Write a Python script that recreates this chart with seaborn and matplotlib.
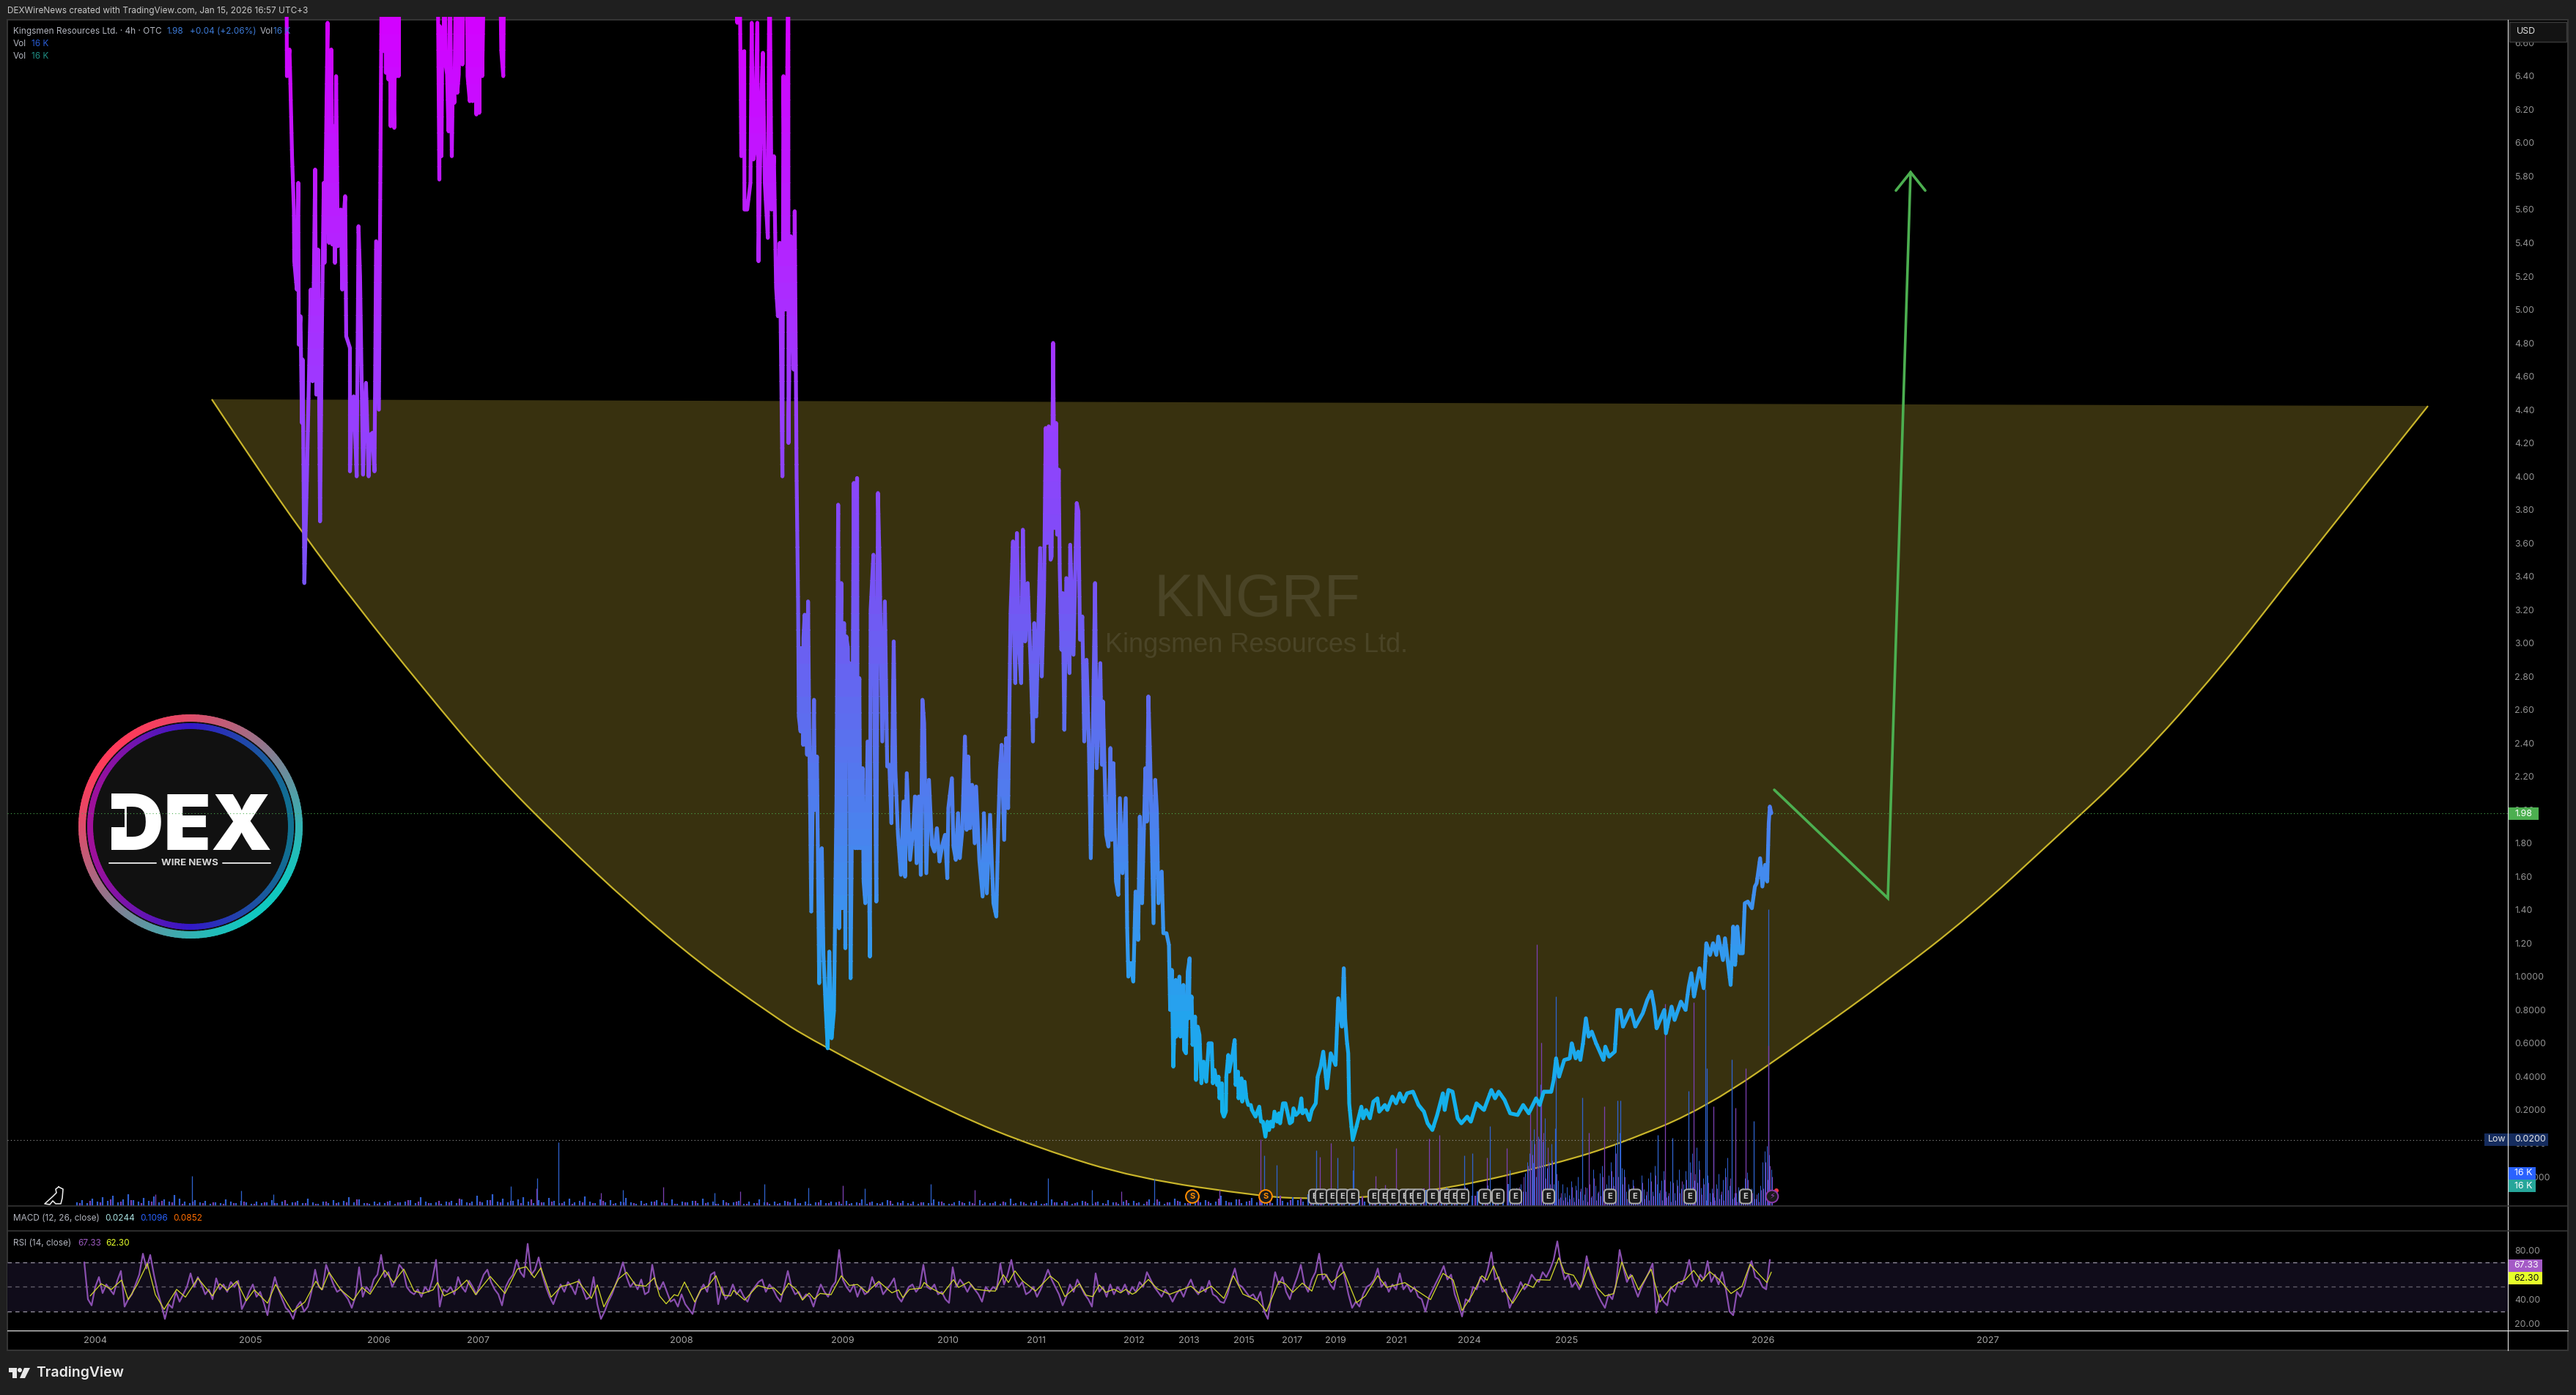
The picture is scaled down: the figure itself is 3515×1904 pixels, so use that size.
#!/usr/bin/env python3
# KNGRF cup chart, TradingView look
import numpy as np
import pandas as pd
import matplotlib
matplotlib.use('Agg')
import matplotlib.pyplot as plt
import seaborn as sns
from matplotlib.collections import LineCollection
from matplotlib.colors import LinearSegmentedColormap
from matplotlib.patches import Circle, PathPatch, Polygon, Rectangle
from matplotlib.path import Path

# x is the bar position along the compressed time axis
# price path, (bar, price), 7.2 means off the top of the pane
price_2005 = [(390.8, 7.2), (391.5, 6.40), (395, 6.56), (396, 6.40), (398.5, 5.92), (401, 5.60), (401.5, 5.29),
              (405, 5.12), (407, 5.76), (407.7, 4.79), (410, 4.96), (412, 4.32), (413, 4.7), (415.3, 3.36),
              (418.8, 4.0), (424, 5.12), (426.5, 4.57), (430, 5.84), (431.6, 4.49), (434, 5.36), (436.7, 3.73),
              (439, 4.8), (441.8, 5.76), (442.8, 5.28), (447, 6.72), (446, 5.76), (449, 5.4), (452, 6.56),
              (453.5, 5.39), (455, 6.1), (457, 5.28), (458.6, 6.40), (461, 5.38), (465, 5.60), (467, 5.12),
              (468, 5.5), (471, 5.68), (472.4, 4.84), (477.5, 4.77), (477.5, 4.03), (480, 4.4), (482.6, 4.48),
              (486.7, 4.0), (489.2, 5.50), (491.3, 5.20), (495.4, 4.01), (497, 4.3), (499.4, 4.56), (503, 4.0),
              (505, 4.25), (508, 4.26), (511, 4.03), (513.2, 5.41), (517, 4.40), (521, 7.2)]
price_2006 = [(524, 6.55), (526, 7.2), (526.5, 6.42), (528, 7.2), (530, 6.38), (531, 7.2), (533, 6.10), (534, 6.38),
              (536, 7.2), (536.5, 6.38), (538, 6.09), (538.5, 6.40), (540, 7.2), (541.5, 6.40), (543, 7.2),
              (544, 6.40), (545, 7.2), (597, 7.2), (599.5, 5.78), (600, 6.7), (602.4, 5.92), (603.5, 6.6),
              (605, 6.47), (606.5, 7.2), (608, 6.47), (610, 6.41), (612, 6.07), (614, 7.0), (616.5, 5.92),
              (618, 6.4), (620, 6.24), (622, 7.0), (624, 6.3), (626, 6.41), (628, 7.2), (631, 6.47), (633, 7.2),
              (637, 7.2), (638, 6.40), (641, 6.25), (643, 7.0), (645, 6.25), (647, 7.0), (650, 6.17), (652, 7.2),
              (654, 6.18), (655, 7.2), (658, 6.40), (661, 7.2), (682, 7.2), (684, 6.55), (686.7, 6.40), (688, 7.2)]
price_2008 = [(1005, 7.2), (1006, 6.72), (1009, 7.2), (1011.5, 5.92), (1015.5, 6.55), (1015.8, 5.60), (1019.6, 5.60),
              (1024, 5.76), (1025.7, 6.72), (1028, 5.9), (1030, 5.96), (1033.4, 6.72), (1035, 5.29), (1038.5, 6.24),
              (1041, 6.54), (1043.6, 5.76), (1047.7, 5.43), (1050, 7.2), (1052.8, 5.60), (1056, 5.92), (1059, 5.13),
              (1061.5, 4.96), (1064, 5.4), (1067.6, 4.0), (1069, 6.40), (1071.6, 5.0), (1075.7, 7.2), (1075.9, 4.20),
              (1079, 5.44), (1083, 4.64), (1084.4, 5.59), (1087, 3.99), (1089, 3.24), (1090, 2.56), (1092.4, 2.47),
              (1093, 2.97), (1096, 2.39), (1096.3, 3.03), (1098, 3.17), (1101.3, 2.33), (1102.6, 3.25), (1104.4, 2.41),
              (1107, 1.39), (1110.7, 2.66), (1112, 2.0), (1114.7, 2.32), (1117.8, 0.96), (1119, 1.60), (1121.4, 1.77),
              (1123.6, 1.13), (1126.7, 0.81), (1129.4, 0.57), (1131.6, 1.15), (1134.7, 0.63), (1137.9, 0.79),
              (1139, 1.17), (1141.4, 2.07), (1143.7, 3.83), (1145, 1.29), (1146.5, 2.79), (1148, 3.36), (1149, 1.41),
              (1151.7, 3.12), (1153.5, 1.17), (1154.8, 3.04), (1157, 2.97), (1158, 2.4), (1159, 2.88), (1160.6, 0.99),
              (1162.5, 1.9), (1165, 3.96), (1166.9, 1.77), (1169.5, 3.99), (1170.4, 1.77), (1172.6, 2.79), (1174, 1.77),
              (1177, 2.25), (1178.4, 1.57), (1180.7, 1.44), (1183.8, 2.41), (1187, 1.12), (1188, 3.20), (1191.8, 3.53),
              (1193.6, 2.34), (1195.8, 1.45), (1198, 3.90), (1200.3, 3.46), (1203.9, 2.41), (1207.4, 3.25), (1210.6, 2.26),
              (1213.5, 2.27), (1216.4, 1.92), (1219.5, 3.01), (1221.7, 2.24), (1225.3, 1.85), (1229.3, 1.61)]
price_2009 = [(1232.9, 2.05), (1235, 1.60), (1237.3, 2.22), (1241.8, 1.70), (1246.2, 1.89), (1248.5, 2.08), (1250.7, 1.68),
              (1253.8, 2.08), (1256.5, 1.61), (1258.7, 2.66), (1261, 2.52), (1264, 1.62), (1267.6, 2.18), (1271.7, 1.79),
              (1275, 1.75), (1278.4, 1.89), (1282, 1.69), (1286.4, 1.80), (1289.5, 1.85), (1292.6, 1.59), (1294, 2.01),
              (1298.9, 2.19), (1301, 1.78), (1304.2, 1.70), (1307.3, 1.98), (1309.6, 1.71), (1313, 1.87), (1316.7, 2.44),
              (1319, 1.88), (1321.2, 2.32), (1323.4, 1.89), (1326.5, 2.15), (1330, 1.80), (1331.9, 2.14), (1336.3, 1.70),
              (1340.8, 1.48), (1342.6, 1.98), (1346.6, 1.50), (1351, 1.97), (1355.5, 1.44), (1359.5, 1.36), (1362.2, 1.91),
              (1364.4, 2.24), (1366.7, 2.39), (1370.2, 1.82), (1372.9, 2.43), (1375.6, 2.01), (1377.8, 2.79), (1379, 3.19),
              (1382.3, 3.61), (1384, 3.0), (1385.4, 2.76), (1387.6, 3.66), (1390.3, 2.99), (1393.4, 2.76), (1395.7, 3.68),
              (1398.8, 3.01), (1402.3, 3.36), (1406.8, 2.81), (1409.5, 2.41), (1411.3, 3.12), (1414, 2.56), (1416.6, 3.06),
              (1419.3, 3.57), (1421.5, 2.80), (1424.6, 3.30), (1426.9, 4.29), (1429, 3.6), (1431, 4.30), (1433.6, 3.50),
              (1435, 3.52), (1437, 4.80), (1439, 3.69), (1441, 4.32), (1442.5, 3.65), (1444.7, 4.04), (1446, 3.45),
              (1448.3, 2.96), (1450, 3.3), (1452.3, 2.48), (1455, 3.39), (1459.4, 2.82), (1460.3, 3.59), (1464.8, 2.93),
              (1469.2, 3.84), (1471.5, 3.79), (1473.7, 3.02), (1476.8, 3.16), (1479.5, 2.41), (1482.6, 2.90),
              (1485.7, 2.41), (1488.4, 1.71), (1491.5, 2.54), (1494.2, 3.36), (1496.5, 2.25), (1501.4, 2.88)]
price_2011 = [(1503.6, 2.27), (1505, 2.65), (1509.4, 1.85), (1512.5, 1.78), (1515.2, 2.37), (1517, 1.82), (1519.2, 2.28),
              (1522.8, 1.57), (1525.9, 1.49), (1528.1, 2.07), (1531.7, 1.62), (1536.1, 2.07), (1538, 1.3), (1539.7, 1.0),
              (1543, 1.08), (1546.4, 0.97), (1549.5, 1.51), (1553, 1.22), (1555.3, 1.96), (1558.4, 1.44), (1562.9, 2.25),
              (1565, 1.93), (1567, 2.68), (1569.6, 2.27), (1574, 1.32), (1576.3, 2.18), (1578.5, 2.0), (1580.7, 1.44),
              (1585.2, 1.63), (1587.4, 1.26), (1591.7, 1.26), (1595, 1.19), (1596.7, 0.80), (1599, 1.04), (1601, 0.46),
              (1604.3, 0.98), (1605, 0.64), (1609.3, 1.0), (1610.7, 0.64), (1614.7, 0.95), (1615.7, 0.56), (1618.3, 0.54),
              (1620.7, 1.03), (1623.3, 1.11), (1622.3, 0.75), (1626, 0.88), (1627.3, 0.59), (1630.7, 0.76), (1632, 0.38),
              (1634.3, 0.70), (1636.7, 0.65), (1639.3, 0.36), (1642.3, 0.49), (1646, 0.37), (1649.3, 0.60), (1653.3, 0.60),
              (1655, 0.36), (1657.3, 0.44), (1660.7, 0.35), (1662.7, 0.40), (1664, 0.27), (1667.3, 0.36), (1667.6, 0.19),
              (1670, 0.16), (1672.7, 0.19), (1673.3, 0.40), (1676, 0.53), (1677.3, 0.43), (1681.7, 0.53), (1684.7, 0.62),
              (1686, 0.35), (1689.3, 0.43), (1690, 0.27), (1694, 0.39), (1695, 0.25), (1698.3, 0.37), (1700.7, 0.27),
              (1703.3, 0.23), (1706.7, 0.23), (1708.3, 0.20), (1713.3, 0.16), (1718.3, 0.22), (1720.7, 0.13),
              (1723.3, 0.13), (1726.7, 0.04), (1729.3, 0.13), (1731.7, 0.08), (1734, 0.13), (1736.7, 0.10), (1739, 0.19),
              (1742.7, 0.13), (1745, 0.18), (1746.7, 0.12), (1750.7, 0.24), (1754, 0.24), (1757, 0.18), (1760, 0.12),
              (1763, 0.13), (1765, 0.21), (1768.3, 0.17), (1772.7, 0.19), (1775.7, 0.27), (1777.3, 0.18), (1781.7, 0.20),
              (1786.7, 0.14)]
price_2019 = [(1790, 0.20), (1795.4, 0.24), (1798, 0.40), (1802, 0.46), (1805.6, 0.55), (1810.7, 0.33), (1815.8, 0.54),
              (1822.4, 0.47), (1826, 0.87), (1831, 0.70), (1833.6, 1.05), (1835.5, 0.75), (1837.7, 0.62), (1839.7, 0.54),
              (1841, 0.24), (1845.8, 0.02), (1851.4, 0.11), (1857.6, 0.22), (1860, 0.15), (1864, 0.20), (1869.3, 0.15),
              (1874, 0.25), (1879.5, 0.27), (1882, 0.19), (1889.7, 0.23), (1893, 0.20), (1900, 0.28), (1905, 0.24),
              (1910, 0.30), (1915, 0.25), (1920, 0.30), (1928, 0.31), (1935.6, 0.23), (1943, 0.19), (1948, 0.12),
              (1954.5, 0.08), (1961, 0.17), (1968.8, 0.30), (1971.3, 0.20), (1976.4, 0.32), (1982, 0.31), (1989, 0.15),
              (1994, 0.12), (2002, 0.16), (2007, 0.13), (2014.7, 0.24), (2024.9, 0.20), (2035, 0.32), (2040, 0.27),
              (2045, 0.31), (2053, 0.26), (2060.6, 0.18), (2070.8, 0.17), (2078.4, 0.23), (2086, 0.18), (2096, 0.27),
              (2101, 0.23), (2106.5, 0.31), (2116.7, 0.31), (2120, 0.38), (2123.3, 0.51), (2127.4, 0.40), (2134.5, 0.50),
              (2142, 0.51), (2144.7, 0.60), (2150, 0.51), (2153.5, 0.55), (2156.4, 0.50), (2160, 0.60), (2164, 0.75),
              (2167.7, 0.64), (2172, 0.67), (2177.9, 0.60), (2188, 0.50), (2190.5, 0.58), (2195.7, 0.52), (2203.4, 0.55),
              (2207, 0.80), (2211, 0.80), (2214.6, 0.70), (2225.3, 0.80), (2231.4, 0.70), (2241.6, 0.78), (2247.7, 0.86),
              (2253.3, 0.91), (2257, 0.82), (2260.5, 0.69), (2271, 0.80), (2273.2, 0.66), (2280.9, 0.82), (2285, 0.74),
              (2293.6, 0.85), (2300, 0.80), (2304.3, 0.94), (2307.9, 1.02), (2311.5, 0.88), (2319, 1.05), (2324.7, 0.93),
              (2328.3, 1.20), (2333.4, 1.13), (2337.5, 1.20), (2342, 1.13), (2344.6, 1.24), (2351, 1.10), (2353.8, 1.23),
              (2361.5, 0.95), (2365, 1.30), (2367.6, 1.07), (2370.6, 1.30), (2374, 1.14), (2378, 1.14), (2380.8, 1.44),
              (2385, 1.45), (2390.5, 1.41), (2394.6, 1.54), (2397, 1.56), (2401.7, 1.71), (2404.8, 1.54), (2408.4, 1.67),
              (2411.4, 1.57), (2413.5, 1.92), (2415, 2.02), (2417, 1.98)]

# rounding-bottom drawing, (bar, price)
cup_curve = [(289, 4.462), (350, 4.058), (414, 3.653), (482, 3.254), (576, 2.735), (672, 2.234), (766, 1.817),
             (860, 1.430), (955, 1.079), (1050, 0.780), (1108, 0.617), (1300, 0.178), (1420, -0.033), (1550, -0.209),
             (1722, -0.318), (1780, -0.332), (1860, -0.327), (1980, -0.270), (2124, -0.121), (2211, -0.002),
             (2328, 0.213), (2466, 0.631), (2578, 0.986), (2690, 1.369), (2800, 1.812), (2914, 2.278), (3030, 2.849),
             (3138, 3.460), (3313, 4.422)]

# projected path and arrow head
proj_x = [2421, 2576, 2607]
proj_p = [2.12, 1.47, 5.824]
head_x = [2587, 2607, 2627]
head_p = [5.714, 5.824, 5.714]

last_price = 1.98
low_price = 0.02

# volume spikes, (bar, height on the volume pane)
vol_blue_spikes = [(262, 41), (329, 21), (373, 16), (697, 27), (733, 38), (762, 87), (850, 22), (975, 18), (1043, 30),
                   (1103, 25), (1180, 24), (1270, 30), (1430, 38), (1490, 22), (1575, 37), (1725, 69), (1742, 56),
                   (1796, 76), (1825, 66), (1847, 82), (1846, 49), (1998, 69), (2009, 72), (2033, 109), (2060, 49),
                   (2092, 59), (2102, 166), (2122, 106), (2123, 286), (2159, 148), (2207, 144), (2211, 144), (2262, 97),
                   (2282, 93), (2304, 157), (2327, 296), (2329, 188), (2338, 89), (2363, 200), (2393, 116), (2413, 405)]
vol_purple_spikes = [(212, 16), (732, 24), (820, 18), (905, 26), (1010, 20), (1150, 28), (1330, 22), (1530, 20), (1664, 22),
                     (1720, 91), (1801, 67), (1816, 86), (1877, 41), (1890, 29), (1905, 79), (1950, 92), (1964, 97),
                     (2029, 66), (2056, 79), (2088, 126), (2097, 357), (2103, 223), (2168, 100), (2189, 136), (2272, 276),
                     (2311, 278), (2338, 136), (2368, 134), (2382, 188), (2413, 219)]
# low carpet, one value every 7 bars from bar 105
vol_blue_low = [5, 8, 4, 10, 6, 12, 7, 14, 5, 9, 16, 8, 6, 11, 7, 13, 5, 9, 6, 15, 10, 6, 4, 8, 5, 7, 3, 5, 4, 9,
                6, 4, 7, 5, 3, 6, 4, 5, 8, 4, 6, 3, 5, 7, 4, 10, 5, 3, 6, 4, 8, 5, 7, 12, 5, 9, 4, 3, 6, 5,
                4, 7, 3, 5, 6, 8, 4, 12, 6, 4, 5, 3, 6, 7, 4, 9, 5, 6, 14, 5, 8, 16, 6, 10, 5, 7, 9, 12, 6, 4,
                8, 5, 11, 7, 4, 6, 10, 5, 7, 13, 6, 4, 9, 5, 8, 4, 6, 11, 5, 3, 7, 4, 6, 8, 5, 4, 9, 3, 6, 5,
                7, 4, 10, 5, 6, 3, 8, 4, 5, 7, 3, 6, 4, 9, 5, 3, 6, 4, 7, 5, 10, 4, 6, 3, 5, 8, 4, 6, 5, 3,
                7, 4, 5, 9, 3, 6, 4, 5, 8, 3, 5, 7, 4, 6, 3, 5, 4, 9, 6, 4, 3, 5, 7, 4, 6, 3, 8, 5, 4, 6,
                3, 5, 10, 4, 6, 3, 5, 7, 3, 4, 9, 5, 4, 6, 3, 5, 7, 4, 3, 6, 4, 8, 5, 3, 6, 4, 7, 5, 3, 9,
                4, 6, 3, 5, 10, 6, 4, 7, 12, 5, 8, 4, 6, 14, 7, 5, 9, 4, 6, 11, 5, 8, 6, 4, 10, 7, 5, 12, 8, 6,
                16, 7, 5, 9, 13, 6, 10, 8, 5, 14, 9, 6, 11, 18, 7, 12, 9, 15, 6, 20, 10, 13, 8, 22, 11, 16, 9, 25, 12, 18,
                10, 24, 14, 20, 12, 28, 16, 22, 14, 30]
# purple carpet, one value every 14 bars from bar 109
vol_purple_low = [4, 7, 5, 9, 6, 8, 4, 6, 7, 5, 3, 6, 4, 5, 3, 4, 6, 3, 5, 4, 8, 5, 4, 3, 6, 4, 5, 9, 4, 3,
                  6, 5, 8, 6, 4, 7, 5, 10, 4, 6, 8, 5, 7, 4, 9, 5, 6, 4, 3, 5, 4, 7, 3, 5, 4, 3, 6, 4, 3, 5,
                  7, 4, 3, 5, 6, 3, 4, 5, 3, 6, 4, 3, 5, 4, 6, 3, 4, 5, 3, 7, 4, 3, 5, 4, 6, 3, 5, 4, 3, 4,
                  6, 3, 5, 4, 3, 5, 7, 4, 6, 5, 3, 5, 8, 4, 6, 9, 5, 7, 4, 8, 6, 10, 5, 9, 7, 12, 6, 14, 8, 11,
                  9, 15, 7, 18, 10, 13, 9, 20, 11, 16, 12, 24, 14, 18, 16, 26, 14, 22, 18]
# dense volume at the right edge, one value every 3 bars from bar 2060
vol_blue_dense = [12, 18, 9, 25, 14, 30, 20, 45, 60, 72, 90, 105, 40, 95, 60, 88, 120, 52, 60, 85, 30, 70, 35, 12, 30,
                  18, 26, 15, 34, 12, 28, 40, 20, 48, 16, 25, 42, 12, 50, 28, 18, 45, 55, 15, 30, 42, 60, 40, 85, 95,
                  100, 52, 50, 20, 30, 14, 36, 18, 22, 10, 42, 23, 15, 38, 46, 20, 55, 30, 18, 35, 48, 20, 14, 34, 42,
                  18, 36, 50, 24, 30, 48, 18, 60, 72, 35, 80, 62, 25, 38, 20, 42, 18, 24, 12, 30, 44, 16, 36, 52, 66,
                  28, 30, 12, 18, 26, 14, 25, 38, 46, 20, 24, 36, 10, 18, 28, 60, 75, 82, 70, 50]
vol_purple_dense = [9, 14, 20, 6, 26, 8, 40, 20, 55, 28, 70, 85, 30, 92, 45, 100, 38, 80, 30, 62, 14, 44, 10, 18, 8,
                    12, 6, 10, 26, 6, 22, 10, 24, 8, 26, 6, 30, 14, 38, 8, 20, 14, 40, 6, 22, 12, 48, 28, 72, 40,
                    84, 30, 40, 10, 24, 8, 28, 6, 16, 8, 32, 10, 20, 8, 34, 14, 42, 10, 22, 8, 36, 12, 18, 6, 32,
                    8, 28, 18, 34, 8, 36, 10, 46, 26, 44, 32, 50, 16, 30, 8, 32, 6, 18, 8, 24, 10, 20, 8, 40, 22,
                    38, 10, 18, 6, 20, 8, 20, 10, 36, 8, 18, 10, 16, 6, 22, 24, 60, 36, 55, 40]

# RSI, one value every 5 bars from bar 115
rsi_early = [70, 40, 35, 50, 58, 45, 52, 48, 44, 55, 63, 34, 40, 44, 52, 60, 77, 65, 76, 60, 46, 36, 24, 36, 33, 46, 38, 44,
             50, 61, 50, 58, 52, 44, 48, 40, 57, 48, 52, 46, 54, 50, 55, 32, 38, 46, 52, 42, 46, 37, 27, 45, 58, 48, 40, 33,
             30, 24, 34, 38, 30, 34, 46, 64, 50, 48, 68, 60, 52, 46, 48, 44, 40, 33, 42, 66, 42, 50, 46, 56, 60, 76, 58, 62,
             50, 56, 68, 64, 50, 46, 44, 48, 42, 50, 46, 56, 72, 34, 48, 46, 50, 44, 58, 50, 46, 55, 50, 44, 52, 60, 64, 54,
             48, 44, 35, 50, 56, 60, 72, 62, 58, 85, 60, 64, 74, 60, 50, 42, 36, 44, 52, 46, 54, 50, 44, 56, 48, 40, 42, 58,
             36, 24, 30, 38, 44, 52, 60, 70, 58, 50, 54, 48, 56, 44, 46, 68, 52]
# same spacing from bar 900
rsi_middle = [48, 54, 46, 38, 40, 34, 44, 36, 32, 28, 40, 46, 52, 46, 60, 62, 36, 50, 40, 44, 52, 44, 48, 42, 38, 46, 50, 54,
              56, 46, 52, 48, 42, 38, 50, 63, 50, 44, 46, 40, 44, 42, 34, 44, 52, 46, 42, 50, 54, 80, 56, 50, 46, 52, 42, 50,
              44, 46, 58, 50, 54, 44, 48, 52, 57, 42, 38, 44, 50, 52, 46, 50, 68, 50, 48, 52, 44, 46, 40, 37, 66, 50, 56, 52,
              46, 52, 48, 44, 38, 50, 46, 50, 48, 69, 52, 60, 72, 56, 50, 54, 44, 46, 50, 42, 48, 56, 64, 56, 50, 44, 35, 42,
              52, 46, 56, 50, 44, 40, 34, 61, 46, 50, 42, 52, 44, 50, 46, 52, 44, 50]
# same spacing from bar 1550
rsi_late = [46, 54, 50, 62, 56, 50, 46, 42, 48, 44, 38, 44, 48, 42, 50, 56, 48, 44, 50, 46, 55, 44, 42, 38, 37, 44, 56, 65,
            52, 50, 46, 42, 44, 39, 46, 30, 24, 44, 62, 52, 58, 46, 40, 50, 58, 68, 52, 46, 56, 62, 77, 56, 60, 52, 48, 62,
            69, 58, 44, 33, 38, 34, 44, 50, 52, 56, 65, 50, 54, 46, 52, 48, 61, 48, 52, 46, 50, 42, 40, 30, 42, 48, 54, 60,
            67, 56, 60, 44, 36, 26, 40, 38, 50, 48, 58, 54, 64, 78, 56, 58, 46, 48, 33, 40, 46, 54, 48, 52, 60, 56, 54, 62,
            58, 64, 72, 87, 68, 56, 60, 50, 54, 48, 56, 75, 60, 52, 44, 38, 33, 44, 40, 52, 80, 66, 54, 60, 50, 42, 50, 56,
            62, 69, 29, 44, 38, 35, 50, 46, 54, 52, 60, 72, 56, 50, 60, 56, 71, 54, 60, 52, 62, 48, 30, 27, 46, 42, 50, 62,
            71, 58, 56, 50, 48, 72]
# RSI average, (bar, value)
rsi_ma = [(123, 42.7), (138, 52.6), (152, 48), (166, 55.6), (175, 39.7), (187, 51.6), (201, 69), (212, 43.7), (224, 31.8),
          (241, 48), (253, 41.7), (270, 57.1), (290, 42.7), (300, 52.6), (310, 47.2), (323, 54.6), (336, 38.7), (347, 47.6),
          (365, 36.8), (376, 52), (399, 29.8), (416, 37.8), (431, 54.6), (439, 47.6), (449, 61.9), (465, 47.6), (482, 39.1),
          (494, 49.6), (505, 44.1), (525, 63.5), (537, 53.6), (551, 64.5), (565, 46.7), (577, 44.7), (591, 47.6), (597, 53.6),
          (606, 42.7), (623, 47.6), (637, 55.6), (649, 43.7), (669, 58.5), (689, 44.7), (706, 64.5), (718, 66.4), (729, 57.5),
          (738, 65.5), (752, 41.7), (766, 50.6), (775, 51.6), (789, 54.6), (807, 40.7), (815, 51.6), (824, 33.8), (844, 56.5),
          (855, 61.9), (867, 51.6), (881, 50.6), (893, 57.5), (900, 42.7), (909, 36.3), (920, 43.7), (925, 42.7), (934, 54),
          (948, 37.7), (956, 47.6), (966, 50.6), (977, 59.1), (987, 43.3), (997, 42.7), (1001, 47.2), (1016, 39.3),
          (1034, 51.2), (1049, 48.6), (1056, 49.2), (1066, 43.3), (1076, 53), (1087, 47.6), (1095, 39.3), (1104, 45),
          (1111, 40.1), (1119, 44.7), (1134, 43.7), (1148, 59.1), (1159, 51.2), (1170, 52), (1183, 45.6), (1199, 54.5),
          (1217, 45.2), (1226, 47.6), (1232, 41.3), (1241, 48), (1257, 49), (1261, 53.6), (1270, 49.2), (1286, 44.1),
          (1301, 55.9), (1308, 49.6), (1322, 54.1), (1330, 48.2), (1346, 47), (1358, 46.6), (1369, 59.9), (1376, 53.6),
          (1385, 63), (1395, 55.1), (1413, 46.6), (1433, 58.9), (1444, 53.6), (1453, 42.1), (1473, 52.6), (1482, 43.3),
          (1491, 42.1), (1500, 51.6), (1509, 45.6), (1520, 48.2), (1529, 45.2), (1536, 48), (1545, 44.1),
          (1550, 45.6), (1567, 56.1), (1579, 48.6), (1596, 44), (1625, 50.6), (1636, 45.2), (1653, 50.6), (1670, 40.7),
          (1683, 59.1), (1696, 44.2), (1716, 38.7), (1728, 30.2), (1745, 54.5), (1754, 52.5), (1764, 45.6), (1777, 53.1),
          (1790, 46.6), (1798, 59.9), (1808, 60.4), (1817, 53.5), (1834, 62.4), (1851, 37.3), (1863, 42.6), (1880, 59.1),
          (1892, 49.6), (1917, 53.5), (1932, 47.6), (1952, 39.7), (1969, 61), (1983, 55.5), (1995, 30.8), (2009, 43.6),
          (2022, 59.1), (2029, 55.5), (2038, 67), (2049, 50.6), (2064, 36.7), (2081, 52.5), (2092, 49.6), (2098, 55.9),
          (2115, 55.5), (2127, 73.7), (2135, 61.4), (2147, 59.5), (2157, 49.6), (2167, 66.4), (2179, 49.6), (2190, 42.6),
          (2202, 44.6), (2213, 70.3), (2222, 56.5), (2227, 59.5), (2236, 47.6), (2253, 64.4), (2265, 37.7), (2279, 48.6),
          (2290, 53.5), (2299, 55.5), (2311, 63.4), (2322, 54.5), (2333, 62.4), (2345, 56.5), (2362, 44.6), (2377, 50.6),
          (2388, 68.4), (2400, 60.4), (2411, 53.5), (2417, 62)]

rsi_tick_vals = [20, 40, 80]
price_ticks = [6.6, 6.4, 6.2, 6.0, 5.8, 5.6, 5.4, 5.2, 5.0, 4.8, 4.6, 4.4, 4.2, 4.0, 3.8, 3.6, 3.4, 3.2, 3.0, 2.8, 2.6, 2.4,
               2.2, 2.0, 1.8, 1.6, 1.4, 1.2, 1.0, 0.8, 0.6, 0.4, 0.2, 0.0, -0.2]
year_labels = ['2004', '2005', '2006', '2007', '2008', '2009', '2010', '2011', '2012', '2013', '2015', '2017', '2019',
               '2021', '2024', '2025', '2026', '2027']
year_pos = [130, 342, 517, 653, 930, 1150, 1293, 1414, 1547, 1622, 1697, 1763, 1822, 1905, 2005, 2138, 2406, 2712]
split_pos = [1627, 1727]
earnings_pos = [1794, 1803, 1818, 1832, 1846, 1875, 1889, 1901, 1917, 1926, 1936, 1955, 1973, 1985, 1996, 2026, 2044, 2068,
                2113, 2197, 2231, 2306, 2382]
grad_prices = [0.0, 0.6, 1.4, 2.4, 3.4, 4.4, 5.5, 6.75]
grad_colors = ['#10b4ea', '#1fa6ee', '#3e90ee', '#5a70ee', '#7a50f5', '#9a3cff', '#b81fff', '#d400ff']

px_w, px_h = 3515, 1904
BG, GREY, TICK = '#1f1f1f', '#b2b5be', '#929292'


def rect(top, bottom, left=10, right=3422):
    return [left / px_w, 1 - bottom / px_h, (right - left) / px_w, (bottom - top) / px_h]


def pt(px):
    return px * 0.72


def smooth_path(points, close=False):
    # quadratic spline through the midpoints of the read points
    pts = np.array(points)
    verts, codes = [pts[0]], [Path.MOVETO]
    for p, q in zip(pts[1:-2], pts[2:-1]):
        verts += [p, (p + q) / 2]
        codes += [Path.CURVE3, Path.CURVE3]
    verts += [pts[-2], pts[-1]]
    codes += [Path.CURVE3, Path.CURVE3]
    if close:
        verts.append(pts[0])
        codes.append(Path.CLOSEPOLY)
    return Path(verts, codes)


sns.set_theme(style='dark', rc={'axes.grid': False, 'figure.facecolor': BG})
plt.rcParams['font.family'] = ['Inter', 'DejaVu Sans']

fig = plt.figure(figsize=(px_w / 100, px_h / 100), dpi=100, facecolor=BG)

# chrome under the panes, logo lives here so the price lines run over it
base = fig.add_axes([0, 0, 1, 1], zorder=0)
base.set_xlim(0, px_w)
base.set_ylim(px_h, 0)
base.axis('off')
base.add_patch(Rectangle((10, 27), 3494, 1816, fc='black', ec='#343434', lw=pt(2)))

# DEX logo
cx, cy = 260, 1128
base.add_patch(Circle((cx, cy), 153, fc='#111111', ec='none'))
theta = np.radians(np.arange(0, 361, 2))
for radius, width, cmap, t in [
    (148, 10, LinearSegmentedColormap.from_list('o', ['#ff3a5a', '#8a7a90', '#10c8c0']), 0.5 + 0.5 * np.cos(theta + np.pi / 4)),
    (137, 8, LinearSegmentedColormap.from_list('i', ['#a0109a', '#3318c8', '#107090']), 0.5 + 0.5 * np.cos(theta)),
]:
    pts = np.c_[cx + radius * np.cos(theta), cy - radius * np.sin(theta)]
    segs = np.stack([pts[:-1], pts[1:]], axis=1)
    base.add_collection(LineCollection(segs, colors=cmap(t[:-1]), linewidths=pt(width), capstyle='round'))
base.text(259, 1133, 'DEX', color='white', fontsize=76, fontweight='black', ha='center', va='center')
base.add_patch(Rectangle((147, 1104), 23, 25, fc='#111111', ec='none', zorder=5))
base.text(259, 1178, 'WIRE NEWS', color='#d8d8d8', fontsize=9.5, fontweight='bold', ha='center', va='center')
base.plot([149, 213], [1178, 1178], color='#d8d8d8', lw=pt(2))
base.plot([304, 369], [1178, 1178], color='#d8d8d8', lw=pt(2))

# main pane: cup and price scale
ylim_price = (-0.3756, 6.738)
xlim_bars = (10, 3422)
ax = fig.add_axes(rect(27, 1646), zorder=1, facecolor='none')
ax.set_xlim(*xlim_bars)
ax.set_ylim(*ylim_price)
ax.add_patch(PathPatch(smooth_path(cup_curve, close=True), fc='#38310f', ec='none'))
ax.add_patch(PathPatch(smooth_path(cup_curve), fc='none', ec='#c9b52a', lw=pt(2.2)))
ax.yaxis.tick_right()
ax.set_yticks(price_ticks)
ax.set_yticklabels([f'{v:.2f}' if v > 1.1 else f'{v:.4f}' for v in price_ticks])
ax.tick_params(axis='y', length=0, pad=6.5, labelsize=8.9, labelcolor=TICK)
ax.set_xticks([])
for s in ax.spines.values():
    s.set_visible(False)

# volume
ax_vol = fig.add_axes(rect(27, 1646), zorder=2, facecolor='none')
ax_vol.set_xlim(*xlim_bars)
ax_vol.set_ylim(0, 1619)
ax_vol.axis('off')
low_x = 105 + 7 * np.arange(len(vol_blue_low))
ax_vol.vlines(low_x, 0, vol_blue_low, color='#2f5fd0', lw=pt(2.2))
low_px = 109 + 14 * np.arange(len(vol_purple_low))
ax_vol.vlines(low_px, 0, vol_purple_low, color='#7a3fb0', lw=pt(2.2))
dense_x = 2060 + 3 * np.arange(len(vol_blue_dense))
ax_vol.vlines(dense_x, 0, vol_blue_dense, color='#2f5fd0', lw=pt(1.0))
ax_vol.vlines(dense_x + 1.5, 0, vol_purple_dense, color='#7a3fb0', lw=pt(1.0))
ax_vol.vlines(*zip(*[(s[0], 0, s[1]) for s in vol_blue_spikes]), color='#2f62cc', lw=pt(1.3))
ax_vol.vlines(*zip(*[(s[0], 0, s[1]) for s in vol_purple_spikes]), color='#7a3fb0', lw=pt(1.3))

# price line with vertical gradient, one clipped copy per colour band
ax_p = fig.add_axes(rect(27, 1646), zorder=3, facecolor='none')
ax_p.set_xlim(*xlim_bars)
ax_p.set_ylim(*ylim_price)
path = price_2005 + price_2006 + price_2008 + price_2009 + price_2011 + price_2019
df = pd.DataFrame(path, columns=['bar', 'price'])
grad = LinearSegmentedColormap.from_list('grad', list(zip(np.array(grad_prices) / 6.75, grad_colors)))
edges = np.linspace(-0.4, 6.75, 73)
for lo, hi in zip(edges[:-1], edges[1:]):
    sns.lineplot(data=df, x='bar', y='price', sort=False, estimator=None, errorbar=None, ax=ax_p,
                 color=grad(max(lo, 0) / 6.75), lw=pt(5.2), solid_joinstyle='round', solid_capstyle='round')
    ax_p.lines[-1].set_clip_path(Rectangle((10, lo), 3412, hi - lo + 0.005, transform=ax_p.transData))
ax_p.hlines(last_price, *xlim_bars, color='#4caf50', lw=pt(1.1), linestyle=(0, (1, 3)), zorder=1)
ax_p.hlines(low_price, 10, 3390, color='#9a9a9a', lw=pt(1.1), linestyle=(0, (1, 3)), zorder=1)
ax_p.plot(proj_x, proj_p, color='#4caf50', lw=pt(3.6), solid_joinstyle='miter')
ax_p.plot(head_x, head_p, color='#4caf50', lw=pt(3.6), solid_joinstyle='miter')
ax_p.set_xlim(*xlim_bars)
ax_p.set_ylim(*ylim_price)
ax_p.set_xlabel('')
ax_p.set_ylabel('')
ax_p.axis('off')

# RSI pane
ax_r = fig.add_axes(rect(1680, 1816), zorder=3, facecolor='none')
ax_r.set_xlim(*xlim_bars)
ax_r.set_ylim(14.6, 95.5)
ax_r.axhspan(30, 70, color='#100c1a', lw=0)
for lvl in (70, 50, 30):
    ax_r.axhline(lvl, color='#8f8a9a' if lvl != 50 else '#5f5b68', lw=pt(1.4), dashes=(4, 3.5))
rsi_vals = rsi_early + rsi_middle + rsi_late
rsi_df = pd.DataFrame({'bar': np.r_[115 + 5 * np.arange(len(rsi_early)),
                                    900 + 5 * np.arange(len(rsi_middle)),
                                    1550 + 5 * np.arange(len(rsi_late))],
                       'rsi': rsi_vals})
sns.lineplot(data=rsi_df, x='bar', y='rsi', sort=False, estimator=None, errorbar=None, ax=ax_r, color='#8a4fb0', lw=pt(2.2))
ma_df = pd.DataFrame(rsi_ma, columns=['bar', 'ma'])
sns.lineplot(data=ma_df, x='bar', y='ma', sort=False, estimator=None, errorbar=None, ax=ax_r, color='#cdd42a', lw=pt(1.3))
ax_r.yaxis.tick_right()
ax_r.set_yticks(rsi_tick_vals)
ax_r.set_yticklabels([f'{v:.2f}' for v in rsi_tick_vals])
ax_r.tick_params(axis='y', length=0, pad=6.5, labelsize=8.9, labelcolor=TICK)
ax_r.set_xticks(year_pos)
ax_r.set_xticklabels(year_labels)
ax_r.tick_params(axis='x', length=0, pad=6, labelsize=9.2, labelcolor='#a4a4a4')
ax_r.set_xlabel('')
ax_r.set_ylabel('')
for s in ax_r.spines.values():
    s.set_visible(False)

# labels on top of everything
top = fig.add_axes([0, 0, 1, 1], zorder=5, facecolor='none')
top.set_xlim(0, px_w)
top.set_ylim(px_h, 0)
top.axis('off')
top.plot([3422, 3422], [27, 1843], color='#d8d8d8', lw=pt(1.2))
top.plot([10, 3504], [1646, 1646], color='#363636', lw=pt(1.6))
top.plot([10, 3504], [1680, 1680], color='#363636', lw=pt(1.6))
top.plot([10, 3504], [1816, 1816], color='#e4e4e4', lw=pt(1.2))


def label(x, y, s, color=GREY, size=8.5, **kw):
    top.text(x, y, s, color=color, fontsize=size, va='center', **kw)


label(10, 15, 'DEXWireNews created with TradingView.com, Jan 15, 2026 16:57 UTC+3', color='#c8c8c8')
label(18, 43, 'Kingsmen Resources Ltd. · 4h · OTC')
label(228, 43, '1.98', color='#3d7ad6')
label(259, 43, '+0.04 (+2.06%)', color='#3d7ad6')
label(355, 43, 'Vol')
label(373, 43, '16 K', color='#3d7ad6')
label(18, 60, 'Vol')
label(43, 60, '16 K', color='#2a5ed8')
label(18, 77, 'Vol')
label(43, 77, '16 K', color='#1f8f85')
label(18, 1663, 'MACD (12, 26, close)')
label(143.5, 1663, '0.0244', color='#a8e0e0')
label(191, 1663, '0.1096', color='#2962ff')
label(236.5, 1663, '0.0852', color='#ff6d00')
label(18, 1697, 'RSI (14, close)')
label(106, 1697, '67.33', color='#9c5ac0')
label(144.7, 1697, '62.30', color='#e6ff2a')

# watermark
top.text(1715, 820, 'KNGRF', color='#4a4426', fontsize=58, family=['Liberation Sans'], ha='center', va='center')
top.text(1715, 881, 'Kingsmen Resources Ltd.', color='#4a4426', fontsize=26, family=['Liberation Sans'], ha='center', va='center')

# price scale chips
top.add_patch(Rectangle((3424, 30), 78, 27, fc='#131313', ec='#3a3a3a', lw=pt(1.4)))
label(3434, 43.5, 'USD', color='#e0e0e0', size=8.9)
for x0, x1, y0, y1, fc in [(3422, 3464, 1102, 1119, '#4caf50'), (3390, 3477, 1547, 1564, '#152c5e'),
                           (3422, 3460, 1593, 1610, '#2962ff'), (3422, 3460, 1610, 1627, '#26a69a'),
                           (3422, 3469, 1719, 1736, '#a45ac6'), (3422, 3469, 1736, 1753, '#e6ff2a')]:
    top.add_patch(Rectangle((x0, y0), x1 - x0, y1 - y0, fc=fc, ec='none'))
top.plot([3422, 3422], [1547, 1564], color='#d8d8d8', lw=pt(1.2))
label(3431, 1110.5, '1.98', color='white', size=8.9)
label(3395, 1555.5, 'Low', color='#e8e8e8', size=8.9)
label(3431, 1555.5, '0.0200', color='#e8e8e8', size=8.9)
label(3431, 1601.5, '16 K', color='white', size=8.9)
label(3431, 1618.5, '16 K', color='white', size=8.9)
label(3430, 1727.5, '67.33', color='white', size=8.9)
label(3430, 1744.5, '62.30', color='#111111', size=8.9)

# event badges along the bottom of the main pane
for x in split_pos:
    top.text(x, 1633, 'S', color='#ff8c00', fontsize=8, ha='center', va='center', fontweight='bold',
             bbox=dict(boxstyle='circle,pad=0.35', fc='#1a1a1a', ec='#ff8c00', lw=pt(2)))
for x in earnings_pos:
    top.text(x, 1633, 'E', color='#d0d0d0', fontsize=8, ha='center', va='center', fontweight='bold',
             bbox=dict(boxstyle='round,pad=0.42', fc='#1a1a1a', ec='#a8a8a8', lw=pt(2)))
top.text(2418, 1633, '\u26a1', color='#a044c0', fontsize=8, ha='center', va='center',
         bbox=dict(boxstyle='circle,pad=0.3', fc='#1a1a1a', ec='#8a3aa8', lw=pt(2)))
top.add_patch(Circle((2424, 1625), 3, fc='#f23645', ec='none'))

# replay dino
dino_x = [80, 86, 85, 83, 76, 72, 68, 61, 72, 77, 76, 80]
dino_y = [1620, 1623, 1635, 1643, 1643, 1639, 1644, 1643, 1633, 1628, 1623, 1620]
top.plot(dino_x, dino_y, color='#e8e8e8', lw=pt(1.6))

# TradingView logo
top.add_patch(Polygon([(11.5, 1867), (23, 1867), (23, 1881), (17, 1881), (17, 1873), (11.5, 1873)], fc='#e8e8e8', ec='none'))
top.add_patch(Circle((27, 1870), 3, fc='#e8e8e8', ec='none'))
top.add_patch(Polygon([(33, 1867), (41, 1867), (34, 1881), (27, 1881)], fc='#e8e8e8', ec='none'))
label(49, 1874, 'TradingView', color='#e8e8e8', size=14, fontweight='semibold')

fig.savefig('out.png', dpi=100, facecolor=BG)
